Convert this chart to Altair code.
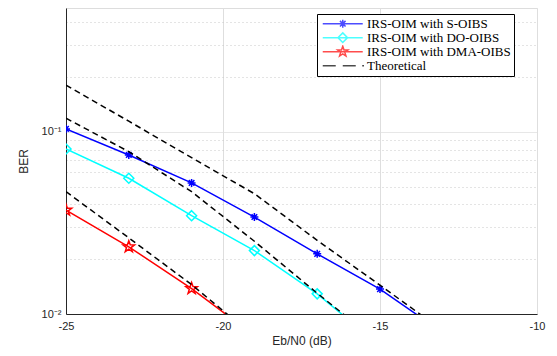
import math
import altair as alt
import pandas as pd

# ---------------- data ----------------
x_s = [-25, -23, -21, -19, -17, -15, -13]
ber_s = [0.104, 0.0748, 0.0525, 0.0341, 0.0214, 0.0137, 0.0079]
x_do = [-25, -23, -21, -19, -17, -15]
ber_do = [0.0807, 0.0557, 0.0347, 0.0223, 0.0129, 0.0067]
x_dma = [-25, -23, -21, -19]
ber_dma = [0.0372, 0.0234, 0.0138, 0.0076]

theo_s = [0.181, 0.1146, 0.0723, 0.0458, 0.0254, 0.0144, 0.0081]
theo_do = [0.119, 0.078, 0.047, 0.0251, 0.0130, 0.0069]
theo_dma = [0.047, 0.0262, 0.0145, 0.0075]

labels = ["IRS-OIM with S-OIBS", "IRS-OIM with DO-OIBS",
          "IRS-OIM with DMA-OIBS", "Theoretical"]
colors = ["#0000ff", "#00ffff", "#ff0000", "#000000"]

x_ticks = [-25, -20, -15, -10]
y_major = [0.01, 0.1]
y_minor = [0.02, 0.03, 0.04, 0.05, 0.06, 0.07, 0.08, 0.09, 0.2, 0.3, 0.4]

# ---------------- marker shapes (unit space) ----------------
def fmt(v):
    return f"{v:.3f}"

def star_path(r_out, r_in, s=1.0, cx=0.0):
    pts = []
    for k in range(10):
        a = math.radians(-90 + 36 * k)
        r = r_out if k % 2 == 0 else r_in
        pts.append((cx + s * r * math.cos(a), s * r * math.sin(a)))
    return "M" + "L".join(f"{fmt(px)},{fmt(py)}" for px, py in pts) + "Z"

def asterisk_path(s=1.0, cx=0.0):
    d = 0.7 * s
    return (f"M{fmt(cx - s)},0L{fmt(cx + s)},0M{fmt(cx)},{fmt(-s)}L{fmt(cx)},{fmt(s)}"
            f"M{fmt(cx - d)},{fmt(-d)}L{fmt(cx + d)},{fmt(d)}"
            f"M{fmt(cx - d)},{fmt(d)}L{fmt(cx + d)},{fmt(-d)}")

def diamond_path(s=1.0, cx=0.0):
    return f"M{fmt(cx)},{fmt(-s)}L{fmt(cx + s)},0L{fmt(cx)},{fmt(s)}L{fmt(cx - s)},0Z"

marker_paths = [asterisk_path(1.0), diamond_path(1.0), star_path(1.0, 0.40, 1.0)]
marker_sizes = [64, 100, 144]

# legend symbols: unit = 3 px (symbolSize 36); line spans ~40 px
line_seg = "M-1.25,0L12.08,0"
mc = 5.42
legend_paths = [
    line_seg + asterisk_path(1.33, mc),
    line_seg + diamond_path(1.6, mc),
    line_seg + star_path(1.0, 0.40, 1.8, mc),
    "M-1.25,0L3.08,0M5.42,0L9.75,0M11.9,0L12.5,0",
]

# ---------------- shared encodings ----------------
axis_col = "#262626"
x_enc = alt.X(
    "x:Q",
    scale=alt.Scale(domain=[-25, -10], nice=False, zero=False),
    axis=alt.Axis(
        values=x_ticks, title="Eb/N0 (dB)", labelExpr="datum.value + ''",
        grid=True, gridColor="#dedede", gridWidth=1, ticks=False,
        labelPadding=6, titlePadding=4, labelFontSize=11, titleFontSize=12,
        labelFont="Liberation Sans", titleFont="Liberation Sans",
        labelColor=axis_col, titleColor=axis_col, titleFontWeight="normal",
        domainColor=axis_col, labelFlush=False,
    ),
)
y_enc = alt.Y(
    "y:Q",
    scale=alt.Scale(type="log", domain=[0.01, 0.48], nice=False),
    axis=alt.Axis(
        values=sorted(y_major + y_minor), title="BER",
        labelExpr="datum.value == 0.1 ? '10⁻¹' : (datum.value == 0.01 ? '10⁻²' : '')",
        grid=True,
        gridDash={"condition": {"test": "datum.value == 0.1 || datum.value == 0.01",
                                "value": [1, 0]}, "value": [1, 3]},
        gridColor={"condition": {"test": "datum.value == 0.1 || datum.value == 0.01",
                                 "value": "#dedede"}, "value": "#c8c8c8"},
        ticks=False, labelPadding=5, titlePadding=11,
        labelFontSize=11, titleFontSize=12,
        labelFont="Liberation Sans", titleFont="Liberation Sans",
        labelColor=axis_col, titleColor=axis_col, titleFontWeight="normal",
        domainColor=axis_col, labelFlush=False,
    ),
)

layers = []

series = [(x_s, ber_s), (x_do, ber_do), (x_dma, ber_dma)]
for i, (xs, ys) in enumerate(series):
    df = pd.DataFrame({"x": xs, "y": ys})
    layers.append(
        alt.Chart(df).mark_line(color=colors[i], strokeWidth=1.5, clip=True)
        .encode(x=x_enc, y=y_enc)
    )
    layers.append(
        alt.Chart(df).mark_point(color=colors[i], filled=False, strokeWidth=1.5,
                                 shape=marker_paths[i], size=marker_sizes[i],
                                 opacity=1, clip=True)
        .encode(x=x_enc, y=y_enc)
    )

theo = [(x_s, theo_s), (x_do, theo_do), (x_dma, theo_dma)]
for xs, ys in theo:
    df = pd.DataFrame({"x": xs, "y": ys})
    layers.append(
        alt.Chart(df).mark_line(color="#000000", strokeWidth=1.5,
                                strokeDash=[6, 4], clip=True)
        .encode(x=x_enc, y=y_enc)
    )

# legend layer: no visible marks, only drives the legend
legend_df = pd.DataFrame({"label": labels, "x": [None] * 4, "y": [None] * 4})
leg = alt.Legend(
    title=None, orient="none", legendX=251, legendY=6,
    labelFont="Liberation Serif", labelFontSize=13, labelColor="#000000",
    labelExpr="datum.label + '\u00a0\u00a0\u00a0\u00a0\u00a0\u00a0'", labelLimit=400,
    symbolSize=36, symbolStrokeWidth=1.5, labelOffset=34,
    clipHeight=13.3, rowPadding=-8, padding=3,
    strokeColor="#000000", fillColor="#ffffff",
    symbolType="stroke",
)
layers.append(
    alt.Chart(legend_df).mark_point(filled=False, strokeWidth=1.5)
    .encode(
        x=x_enc, y=y_enc,
        color=alt.Color("label:N", scale=alt.Scale(domain=labels, range=colors), legend=leg),
        shape=alt.Shape("label:N", scale=alt.Scale(domain=labels, range=legend_paths), legend=leg),
    )
)

chart = (
    alt.layer(*layers)
    .properties(
        width=471, height=306,
        autosize=alt.AutoSizeParams(type="none"),
        padding={"left": 58, "top": 0, "right": 12, "bottom": 34},
    )
    .configure_view(stroke=axis_col, strokeWidth=1)
    .configure(background="#ffffff")
)

chart.save("out.html", embed_options={"renderer": "svg", "actions": False})
